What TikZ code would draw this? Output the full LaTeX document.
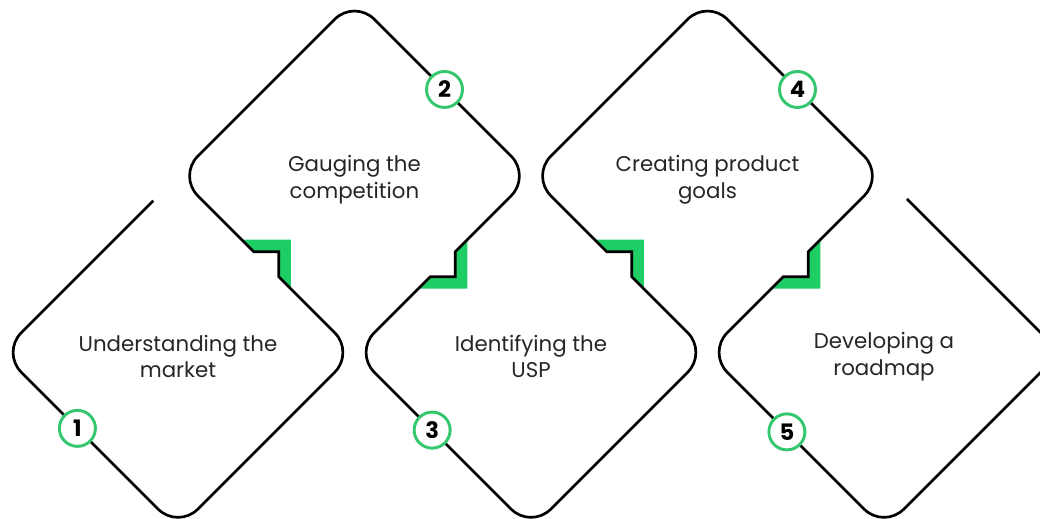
\documentclass[tikz,border=0pt]{standalone}
\usepackage{fontspec}
\setmainfont{Poppins}
\usetikzlibrary{calc}
\definecolor{inkgrey}{RGB}{38,38,38}
\definecolor{ringgreen}{RGB}{52,199,110}
\definecolor{stepgreen}{RGB}{30,205,100}
\newcommand{\notchhalf}{0.071}
\newcommand{\notchout}{0.139}

\begin{document}
\begin{tikzpicture}[
  x=132.375pt, y=132.375pt,
  outline/.style={draw=black, line width=2pt, rounded corners=21pt},
  label/.style={align=center, text=inkgrey, yshift=-3pt,
    font=\fontsize{16}{20}\selectfont},
  badge/.style={circle, draw=ringgreen, line width=2.2pt, fill=white,
    minimum size=27pt, inner sep=0pt,
    font=\fontsize{17}{17}\selectfont\bfseries},
  notchfill/.style={fill=stepgreen},
]
  \useasboundingbox (-0.0085,-0.938) rectangle (5.884,1.997);

  \foreach \m/\v [count=\i] in {1.5/1, 2.5/-1, 3.5/1, 4.5/-1} {
    \coordinate (notchA\i) at ({\m+\notchhalf}, {0.5-\v*\notchhalf});
    \coordinate (notchB\i) at ({\m+\notchhalf}, {0.5+\v*\notchhalf});
    \coordinate (notchC\i) at ({\m-\notchhalf}, {0.5+\v*\notchhalf});
    \fill[notchfill] ({\m+\notchout}, {0.5-\v*\notchout})
      -- ({\m+\notchout}, {0.5+\v*\notchout})
      -- ({\m-\notchout}, {0.5+\v*\notchout})
      -- (notchC\i) -- (notchB\i) -- (notchA\i) -- cycle;
  }

  \draw[outline] (0.86,0.86) -- (0,0) -- (1,-1) -- (2,0)
    [sharp corners] -- (notchA1) -- (notchB1) -- (notchC1)
    [rounded corners=21pt] -- (1,1) -- (2,2) -- (3,1)
    [sharp corners] -- (notchA2) -- (notchB2) -- (notchC2)
    [rounded corners=21pt] -- (2,0) -- (3,-1) -- (4,0)
    [sharp corners] -- (notchA3) -- (notchB3) -- (notchC3)
    [rounded corners=21pt] -- (3,1) -- (4,2) -- (5,1)
    [sharp corners] -- (notchA4) -- (notchB4) -- (notchC4)
    [rounded corners=21pt] -- (4,0) -- (5,-1) -- (6,0) -- (5.13,0.87);

  \node[label] (market)      at (1,0) {Understanding the\\market};
  \node[label] (competition) at (2,1) {Gauging the\\competition};
  \node[label] (usp)         at (3,0) {Identifying the\\USP};
  \node[label] (goals)       at (4,1) {Creating product\\goals};
  \node[label] (roadmap)     at (5,0) {Developing a\\roadmap};

  \node[badge] (num1) at ($(0,0)!0.43!(1,-1)$) {1};
  \node[badge] (num2) at ($(2,2)!0.51!(3,1)$)  {2};
  \node[badge] (num3) at ($(2,0)!0.44!(3,-1)$) {3};
  \node[badge] (num4) at ($(4,2)!0.51!(5,1)$)  {4};
  \node[badge] (num5) at ($(4,0)!0.45!(5,-1)$) {5};
\end{tikzpicture}
\end{document}
